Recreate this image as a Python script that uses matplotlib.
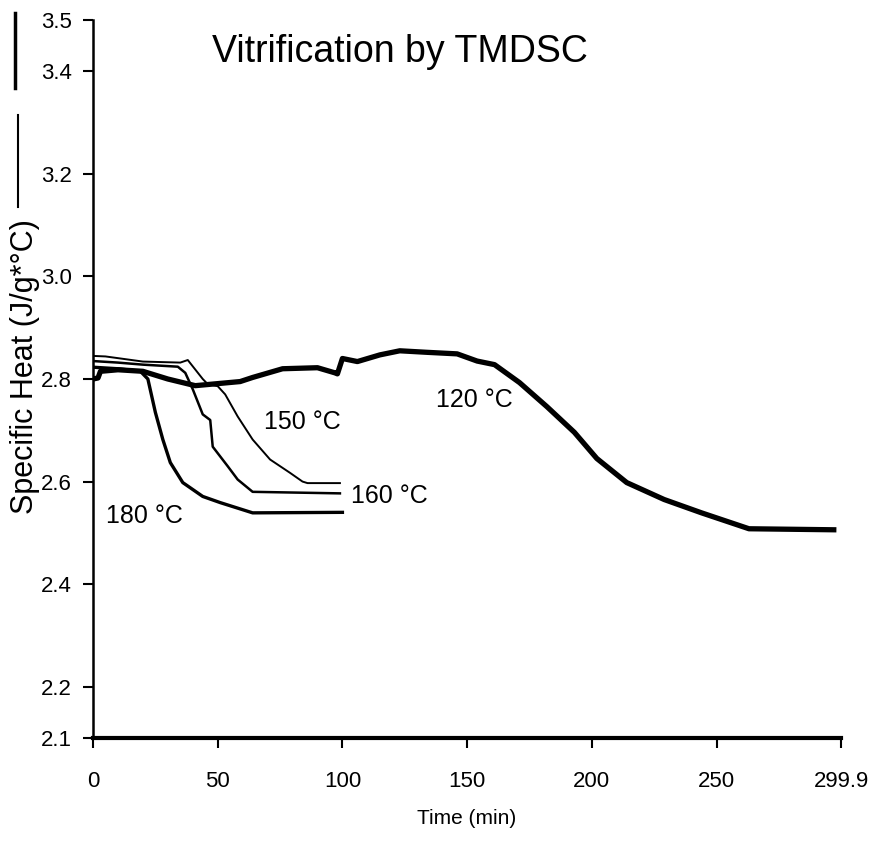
import matplotlib
matplotlib.use("Agg")
import matplotlib.pyplot as plt
import numpy as np

# vitrification curves (time in min, Cp in J/g*C)
t_120 = [0, 2, 3, 10, 20, 30, 41, 50, 59, 64, 76, 90, 97, 98, 100, 106, 115, 123,
         134, 146, 154, 161, 171, 182, 193, 202, 214, 229, 244, 263, 297]
cp_120 = [2.800, 2.802, 2.815, 2.818, 2.815, 2.800, 2.787, 2.791, 2.795, 2.803, 2.820,
          2.822, 2.812, 2.810, 2.840, 2.834, 2.847, 2.855, 2.852, 2.849, 2.835, 2.828,
          2.793, 2.746, 2.696, 2.645, 2.598, 2.565, 2.539, 2.508, 2.506]

t_150 = [0, 5, 14, 20, 35, 38, 44, 46, 50, 53, 58, 64, 71, 79, 84, 86, 99]
cp_150 = [2.845, 2.844, 2.838, 2.834, 2.832, 2.837, 2.800, 2.790, 2.786, 2.770, 2.727,
          2.682, 2.643, 2.617, 2.600, 2.597, 2.597]

t_160 = [0, 10, 20, 34, 37, 40, 44, 47, 48, 54, 58, 64, 99]
cp_160 = [2.835, 2.832, 2.828, 2.824, 2.812, 2.780, 2.731, 2.720, 2.668, 2.630, 2.604,
          2.580, 2.577]

t_180 = [0, 10, 19, 22, 25, 28, 31, 36, 44, 51, 64, 100]
cp_180 = [2.823, 2.820, 2.815, 2.800, 2.735, 2.682, 2.637, 2.598, 2.571, 2.559, 2.539,
          2.540]

curve_labels = ["120 °C", "150 °C", "160 °C", "180 °C"]
label_pos = [(153, 2.760), (84, 2.717), (119, 2.571), (20.5, 2.532)]

x_ticks = [0, 50, 100, 150, 200, 250, 299.9]
x_ticklabels = ["0", "50", "100", "150", "200", "250", "299.9"]
y_ticks = [2.1, 2.2, 2.4, 2.6, 2.8, 3.0, 3.2, 3.4, 3.5]
y_ticklabels = ["2.1", "2.2", "2.4", "2.6", "2.8", "3.0", "3.2", "3.4", "3.5"]

font = ["Liberation Sans", "DejaVu Sans"]

fig = plt.figure(figsize=(8.8, 8.41), dpi=100)
ax = fig.add_axes([93 / 880, 1 - 738 / 841, 748 / 880, 718 / 841])

ax.plot(t_120, cp_120, color="black", lw=3.8, solid_joinstyle="round")
ax.plot(t_180, cp_180, color="black", lw=2.4)
ax.plot(t_160, cp_160, color="black", lw=1.8)
ax.plot(t_150, cp_150, color="black", lw=1.4)

for lab, (x, y) in zip(curve_labels, label_pos):
    ax.text(x, y, lab, family=font, fontsize=18, ha="center", va="center")

ax.set_xlim(0, 299.9)
ax.set_ylim(2.1, 3.5)
ax.set_xticks(x_ticks)
ax.set_xticklabels(x_ticklabels, family=font, fontsize=16)
ax.set_yticks(y_ticks)
ax.set_yticklabels(y_ticklabels, family=font, fontsize=16)
ax.tick_params(axis="both", direction="out", length=7, width=1.5)
ax.tick_params(axis="x", pad=17)
ax.tick_params(axis="y", pad=8)

for side in ["top", "right"]:
    ax.spines[side].set_visible(False)
ax.spines["left"].set_linewidth(1.8)
ax.spines["bottom"].set_linewidth(3)

ax.set_xlabel("Time (min)", family=font, fontsize=15, labelpad=12)

# y label drawn as figure text with the short line sample like the original
fig.text(25 / 880, 1 - 367 / 841, "Specific Heat (J/g*°C)", rotation=90,
         family=font, fontsize=22, ha="center", va="center")
fig.add_artist(plt.Line2D([18 / 880, 18 / 880], [1 - 207 / 841, 1 - 115 / 841],
                          color="black", lw=1.5))
fig.add_artist(plt.Line2D([15 / 880, 15 / 880], [1 - 88 / 841, 1 - 13 / 841],
                          color="black", lw=2.5))

fig.text(400 / 880, 1 - 52 / 841, "Vitrification by TMDSC", family=font,
         fontsize=27, ha="center", va="center")

fig.savefig("out.png", dpi=100)
plt.close()
